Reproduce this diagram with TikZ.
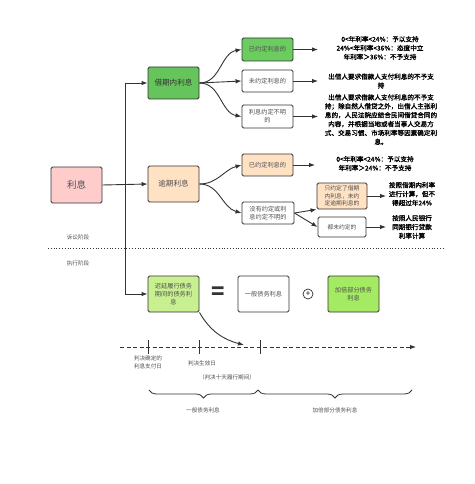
\documentclass[tikz,border=0pt]{standalone}
\usepackage{fontspec}
\setmainfont{Noto Sans CJK SC}
\newfontfamily\cjkb[FakeBold=1.5]{Noto Sans CJK SC}
\usetikzlibrary{arrows.meta,decorations.pathreplacing}
\definecolor{linec}{HTML}{333333}
\definecolor{txtc}{HTML}{505050}
\definecolor{pinkc}{HTML}{FFCCCC}
\definecolor{greenc}{HTML}{66C45C}
\definecolor{greenb}{HTML}{6CCC60}
\definecolor{peachc}{HTML}{FFE1C4}
\definecolor{lgreen}{HTML}{C8F090}
\definecolor{mgreen}{HTML}{A4EA62}
\tikzset{
  box/.style={draw=linec, line width=0.9pt, rounded corners=1.5pt, align=center,
    inner sep=1pt, font=\fontsize{6.2}{8}\selectfont, text=txtc},
  arr/.style={draw=linec, line width=0.9pt, -{Latex[length=6pt,width=4.5pt]}},
  plain/.style={draw=linec, line width=0.9pt},
  note/.style={align=center, inner sep=0pt, font=\cjkb\fontsize{6.6}{8.9}\selectfont, text=black},
  small/.style={align=center, inner sep=0pt, font=\fontsize{5.6}{8}\selectfont, text=txtc},
}
\begin{document}
\begin{tikzpicture}[x=1pt,y=-1pt]
\useasboundingbox (0,0) rectangle (474,484);
% boxes
\node[box, fill=pinkc, minimum width=51pt, minimum height=36pt, font=\fontsize{9.5}{11}\selectfont] (lx) at (76.5,185) {利息};
\node[box, fill=greenc, minimum width=51pt, minimum height=32pt, font=\fontsize{7.6}{9}\selectfont, text=black!80] (jq) at (173.5,83) {借期内利息};
\node[box, fill=peachc, minimum width=51pt, minimum height=36pt, font=\fontsize{7.6}{9}\selectfont] (yq) at (173.5,184) {逾期利息};
\node[box, fill=greenb, minimum width=51pt, minimum height=23pt] (a1) at (267.5,49.5) {已约定利息的};
\node[box, fill=white, minimum width=51pt, minimum height=22pt] (a2) at (267.5,81) {未约定利息的};
\node[box, fill=white, minimum width=51pt, minimum height=23pt] (a3) at (267.5,116.5) {利息约定不明\\的};
\node[box, fill=peachc, minimum width=51pt, minimum height=22pt] (b1) at (267.5,165) {已约定利息的};
\node[box, fill=white, minimum width=52pt, minimum height=22pt] (b2) at (268,213) {没有约定或利\\息约定不明的};
\node[box, fill=peachc, minimum width=50pt, minimum height=26pt, font=\fontsize{5.8}{7.6}\selectfont] (c1) at (342,196) {只约定了借期\\内利息，未约\\定逾期利息的};
\node[box, fill=white, minimum width=48pt, minimum height=20pt, font=\fontsize{5.8}{7.6}\selectfont] (c2) at (342,227) {都未约定的};
\node[box, fill=lgreen, minimum width=51pt, minimum height=36pt] (d1) at (173.5,294) {迟延履行债务\\期间的债务利\\息};
\node[box, fill=white, minimum width=51pt, minimum height=36pt] (d2) at (263.5,294) {一般债务利息};
\node[box, fill=mgreen, minimum width=51pt, minimum height=36pt] (d3) at (353.5,294) {加倍部分债务\\利息};
\node[inner sep=0pt, font=\bfseries\fontsize{22}{22}\selectfont, text=linec] (eq) at (218,293) {=};
\node[draw=linec, circle, line width=0.7pt, minimum size=10pt, inner sep=0pt, font=\fontsize{8}{8}\selectfont] (pl) at (308,294) {+};
% notes
\node[note] (t1) at (380,48) {0<年利率<24\%：予以支持\\24\%<年利率<36\%：态度中立\\年利率＞36\%：不予支持};
\node[note] (t2) at (381,81) {出借人要求借款人支付利息的不予支\\持};
\node[note] (t3) at (381,119.5) {出借人要求借款人支付利息的不予支\\持；除自然人借贷之外，出借人主张利\\息的，人民法院应结合民间借贷合同的\\内容，并根据当地或者当事人交易方\\式、交易习惯、市场利率等因素确定利\\息。};
\node[note] (t4) at (375,163.5) {0<年利率<24\%：予以支持\\年利率＞24\%：不予支持};
\node[note] (t5) at (412,194) {按照借期内利率\\进行计算，但不\\得超过年24\%};
\node[note] (t6) at (412,227) {按照人民银行\\同期银行贷款\\利率计算};
% small labels
\node[small] (s1) at (78,237) {诉讼阶段};
\node[small] (s2) at (78,263) {执行阶段};
\draw[linec, line width=0.8pt, dotted] (48,248) -- (443,248);
% connectors
\coordinate (vtop) at (125,83);
\coordinate (vbot) at (125,294);
\draw[arr] (lx.east) -- (yq.west);
\draw[arr] (vtop) -- (jq.west);
\draw[arr] (vtop) -- (vbot) -- (d1.west);
\draw[arr] (jq.east) to[out=0,in=190] (a1.west);
\draw[arr] (jq.east) -- (a2.west);
\draw[arr] (jq.east) to[out=0,in=170] (a3.west);
\draw[arr] (yq.east) to[out=0,in=195] (b1.west);
\draw[arr] (yq.east) to[out=0,in=165] (b2.west);
\draw[arr] (b2.east) -- (c1.south west);
\draw[arr] (b2.east) -- (c2.west);
\coordinate (e1) at (318,49.5);
\coordinate (e2) at (318,81);
\coordinate (e3) at (318,116.5);
\coordinate (e4) at (315,165);
\coordinate (e5) at (386,196);
\coordinate (e6) at (386,227);
\draw[arr] (a1.east) -- (e1);
\draw[arr] (a2.east) -- (e2);
\draw[arr] (a3.east) -- (e3);
\draw[arr] (b1.east) -- (e4);
\draw[arr] (c1.east) -- (e5);
\draw[arr] (c2.east) -- (e6);
% timeline
\coordinate (tl0) at (120,347);
\coordinate (tl1) at (416,347);
\draw[arr, dash pattern=on 4pt off 2.5pt] (tl0) -- (tl1);
\coordinate (k1) at (148,347);
\coordinate (k2) at (199,347);
\coordinate (k3) at (260,347);
\foreach \k in {k1,k2,k3} \draw[plain] ([yshift=-7pt]\k) -- ([yshift=7pt]\k);
\coordinate (ce) at (244,345);
\draw[arr] (d1.south east) to[out=-60,in=165] (ce);
\node[small] (l1) at (148,362) {判决确定的\\利息支付日};
\node[small] (l2) at (202,363) {判决生效日};
\node[small] (l3) at (227,377) {（判决十天履行期间）};
% braces
\coordinate (bA) at (149,390);
\coordinate (bB) at (258,390);
\coordinate (bC) at (412,390);
\draw[linec, line width=0.8pt, decorate, decoration={brace, amplitude=8pt, mirror}] (bA) -- (bB);
\draw[linec, line width=0.8pt, decorate, decoration={brace, amplitude=8pt, mirror}] (bB) -- (bC);
\node[small] (g1) at (203,410) {一般债务利息};
\node[small] (g2) at (335,410) {加倍部分债务利息};
\end{tikzpicture}
\end{document}
